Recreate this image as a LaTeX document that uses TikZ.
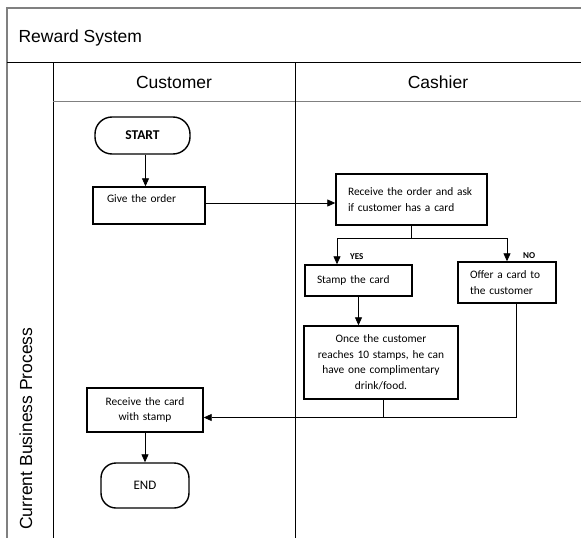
\documentclass[tikz,border=0pt]{standalone}
\usepackage{fontspec}
\setmainfont{Carlito}
\newfontfamily\lanefont{Liberation Sans}
\usetikzlibrary{arrows.meta}
\begin{document}
\begin{tikzpicture}[x=1pt,y=-1pt,
  lanetext/.style={font=\lanefont\fontsize{17.5}{21}\selectfont},
  stepbox/.style={draw, line width=1.4pt, font=\fontsize{11.4}{15.5}\selectfont, inner ysep=2pt},
  terminal/.style={draw, line width=1.4pt, rounded corners=#1, inner sep=0pt},
  flow/.style={line width=0.8pt},
  arr/.style={flow, -{Triangle[width=7pt,length=8pt]}},
  branch/.style={font=\bfseries\fontsize{9}{10}\selectfont, anchor=west, inner sep=0pt},
  lane/.style={line width=0.8pt},
  laneedge/.style={line width=1.2pt, black!50},
]
\useasboundingbox (0,0) rectangle (581,538);

% pool and lanes
\draw[laneedge] (7,538) -- (7,8) -- (581,8);
\draw[lane] (7,62) -- (581,62);
\draw[lane] (53,62) -- (53,538);
\draw[laneedge] (53,101.5) -- (581,101.5);
\draw[lane] (295,62) -- (295,538);

\node[lanetext, anchor=base west] (title) at (15,42) {Reward System};
\node[lanetext, anchor=base] (custhead) at (174,88) {Customer};
\node[lanetext, anchor=base] (cashhead) at (438,88) {Cashier};
\node[lanetext, anchor=base west, rotate=90, inner sep=0pt] (proc) at (32,530) {Current Business Process};

% steps
\node[terminal=17pt, minimum width=95pt, minimum height=37pt,
      font=\bfseries\fontsize{13.5}{15}\selectfont] (startnode) at (142.5,135.5) {START};
\node[stepbox, minimum height=37pt, text width=84pt, inner xsep=14pt, align=left,
      text height=8pt, text depth=15pt] (give) at (149,205.5) {Give the order};
\node[stepbox, minimum height=51pt, text width=127pt, inner xsep=12pt, align=left]
      (recv) at (411.5,199.5) {Receive the order and ask\\if customer has a card};
\node[stepbox, minimum height=31pt, text width=83pt, inner xsep=12pt, align=left]
      (stamp) at (358.5,280.5) {Stamp the card};
\node[stepbox, minimum height=41pt, text width=74pt, inner xsep=12pt, align=left]
      (offer) at (507,282.5) {Offer a card to\\the customer};
\node[stepbox, minimum height=73pt, text width=140pt, inner xsep=7pt, align=center]
      (once) at (381,362.5) {Once the customer\\reaches 10 stamps, he can\\have one complimentary\\drink/food.};
\node[stepbox, minimum height=44pt, text width=104pt, inner xsep=6pt, align=center]
      (card) at (145,410) {Receive the card\\with stamp};
\node[terminal=15pt, minimum width=88pt, minimum height=45pt,
      font=\fontsize{13}{15}\selectfont] (endnode) at (145,485.5) {END};

% connectors
\draw[arr] ([xshift=3pt]startnode.south) -- ([xshift=3pt]startnode.south |- give.north);
\draw[arr] ([yshift=2.5pt]give.east) -- ([yshift=2.5pt]give.east -| recv.west);

\coordinate (yesdrop) at (337,238);
\coordinate (nodrop) at (507,238);
\draw[flow] (recv.south) -- (recv.south |- yesdrop);
\draw[flow] (yesdrop) -- (nodrop);
\draw[arr] (yesdrop) -- (yesdrop |- stamp.north);
\draw[arr] (nodrop) -- (offer.north);
\node[branch] (yes) at (350,257) {YES};
\node[branch] (no) at (523,256) {NO};

\draw[arr] (stamp.south) -- (stamp.south |- once.north);

\coordinate (merge) at (516.7,417.5);
\draw[flow] ([xshift=2.7pt]once.south) -- ([xshift=2.7pt]once.south |- merge);
\draw[arr] ([xshift=9.7pt]offer.south) -- (merge) -- (merge -| card.east);

\draw[arr] (card.south) -- (endnode.north);
\end{tikzpicture}
\end{document}
